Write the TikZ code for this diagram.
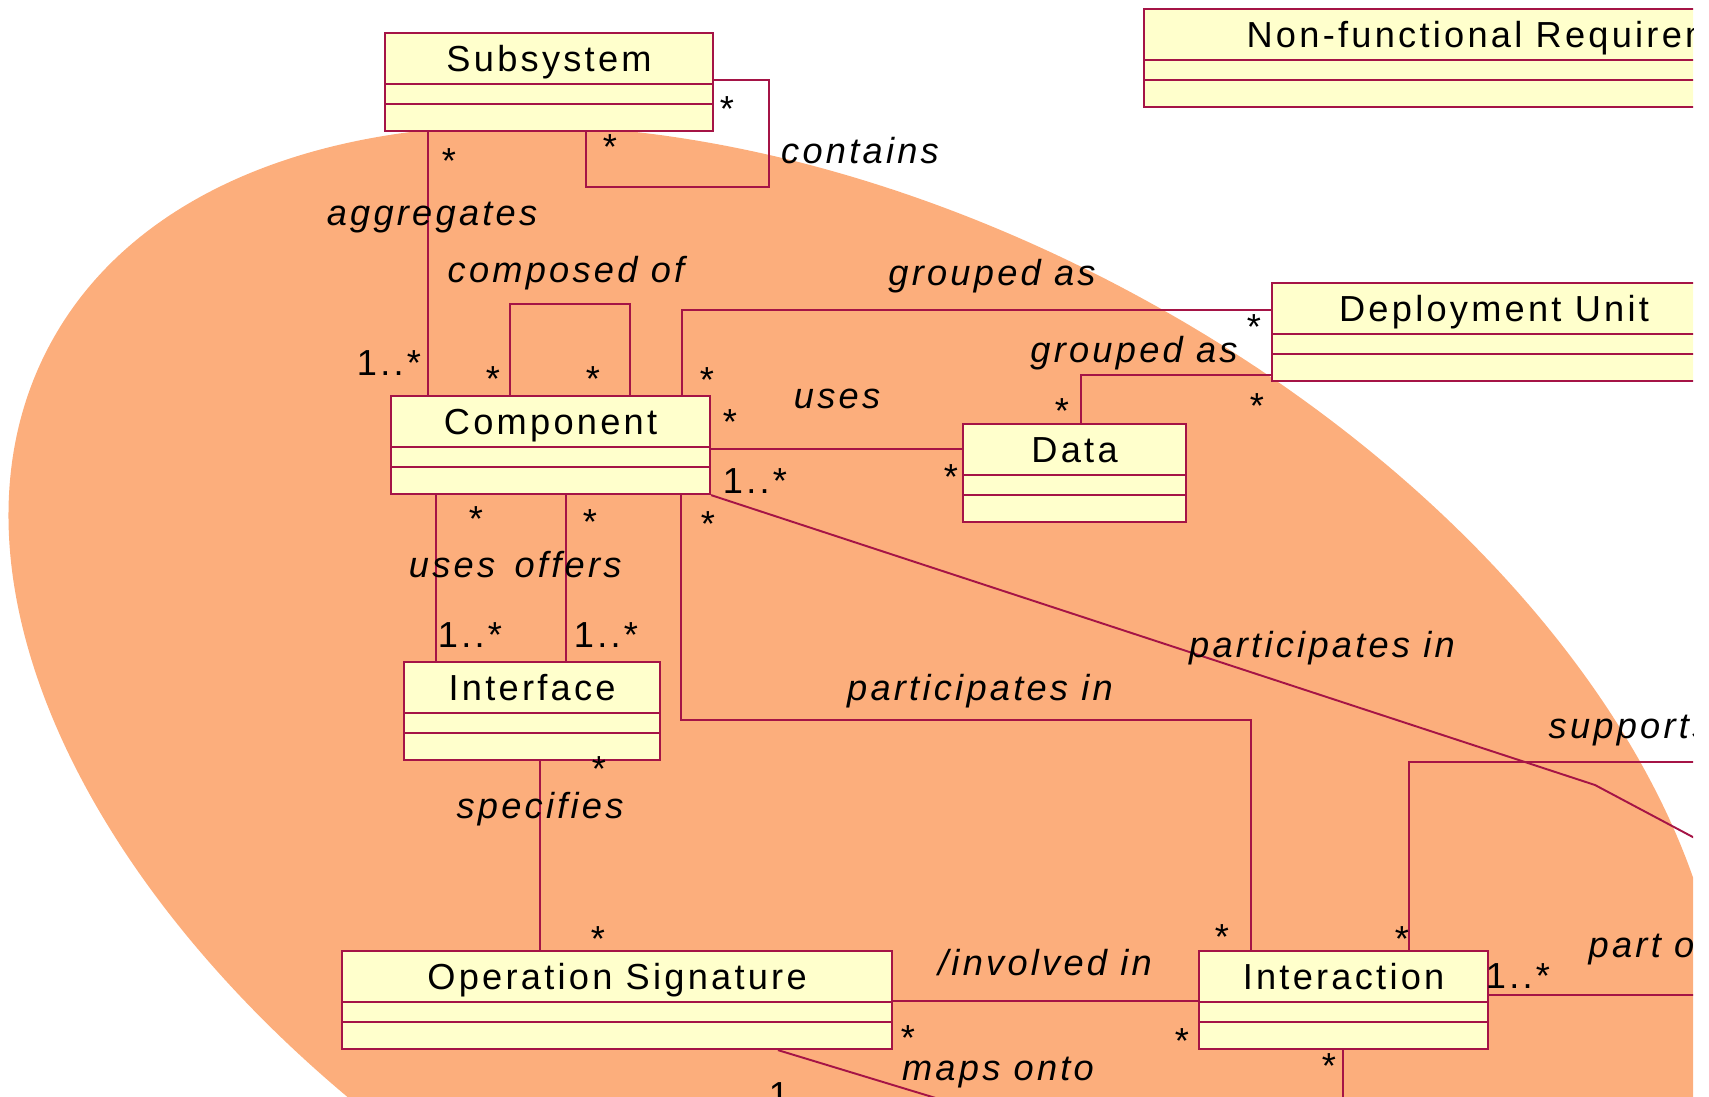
\documentclass[tikz,border=0pt]{standalone}
\usepackage{fontspec}
\setmainfont{Liberation Sans}[LetterSpace=9]
\usetikzlibrary{calc}

\definecolor{umlline}{RGB}{165,20,70}
\definecolor{umlfill}{RGB}{255,255,204}
\definecolor{blob}{RGB}{252,174,124}
\newcommand{\umlfont}{\fontsize{10.3}{12}\selectfont}

\tikzset{
  classbox/.style={draw=umlline, fill=umlfill, line width=0.6pt, anchor=north west,
    minimum height=9.8mm, inner sep=0pt},
  classname/.style={anchor=base, inner sep=0pt, font=\umlfont},
  assoc/.style={draw=umlline, line width=0.55pt},
  role/.style={anchor=base, inner sep=0pt, font=\umlfont\itshape},
  mult/.style={anchor=base, inner sep=0pt, font=\umlfont},
  multstar/.style={anchor=base, inner sep=0pt, font=\umlfont, yshift=-6pt}
}

\newcommand{\classbox}[5]{%
  \node[classbox, minimum width=#4mm] (#1) at (#2,#3) {};
  \draw[assoc, line width=0.6pt] ([yshift=-5.2mm]#1.north west) -- ([yshift=-5.2mm]#1.north east);
  \draw[assoc, line width=0.6pt] ([yshift=-7.2mm]#1.north west) -- ([yshift=-7.2mm]#1.north east);
  \node[classname] (#1-name) at ([yshift=-3.9mm]#1.north) {#5};
}

\begin{document}
\begin{tikzpicture}[x=1mm,y=-1mm]
\useasboundingbox (0,0) rectangle (170.9,109.6);
\begin{scope}
\clip (0,0) rectangle (169.3,109.6);
\fill[blob, rotate around={-28:(86.6,78)}] (86.6,78) ellipse (92.5 and 55.5);

\classbox{subsys}{38.4}{3.2}{32.8}{Subsystem}
\classbox{nfr}{114.3}{0.8}{73.4}{Non-functional Requirement}
\classbox{deploy}{127.1}{28.2}{44.4}{Deployment Unit}
\classbox{comp}{39.0}{39.5}{31.9}{Component}
\classbox{data}{96.2}{42.3}{22.3}{Data}
\classbox{iface}{40.3}{66.1}{25.6}{Interface}
\classbox{opsig}{34.1}{95.0}{55.0}{Operation Signature}
\classbox{inter}{119.8}{95.0}{28.9}{Interaction}

\coordinate (loopCorner) at (76.9,18.7);
\coordinate (partBend) at (159.5,78.5);
\coordinate (partEnd) at (180,89.4);
\coordinate (mapsEnd) at (110.7,115);
\coordinate (supEnd) at (180,76.2);

\draw[assoc] ([yshift=-4.8mm]subsys.north east) -| (loopCorner) -| ([xshift=20.2mm]subsys.south west);
\draw[assoc] ([xshift=4.4mm]subsys.south west) coordinate (aggTop) -- (aggTop |- comp.north);
\draw[assoc] ([xshift=12mm]comp.north west) -- ++(0,-9.1) -| ([xshift=24mm]comp.north west);
\draw[assoc] ([xshift=29.2mm]comp.north west) |- ([yshift=-2.8mm]deploy.north west);
\draw[assoc] ([xshift=11.9mm]data.north west) |- ([yshift=-9.3mm]deploy.north west);
\draw[assoc] ([yshift=-5.4mm]comp.north east) coordinate (usesL) -- (usesL -| data.west);
\draw[assoc] ([xshift=29.1mm]comp.south west) -- ++(0,22.5) -| ([xshift=5.3mm]inter.north west);
\draw[assoc] (comp.south east) -- (partBend) -- (partEnd);
\draw[assoc] ([xshift=4.6mm]comp.south west) coordinate (usesTop) -- (usesTop |- iface.north);
\draw[assoc] ([xshift=17.6mm]comp.south west) coordinate (offTop) -- (offTop |- iface.north);
\draw[assoc] ([xshift=13.7mm]iface.south west) coordinate (specTop) -- (specTop |- opsig.north);
\draw[assoc] ([yshift=-5.1mm]opsig.north east) coordinate (invL) -- (invL -| inter.west);
\draw[assoc] ([xshift=43.7mm]opsig.south west) -- (mapsEnd);
\draw[assoc] ([xshift=14.5mm]inter.south west) -- ++(0,20);
\draw[assoc] ([xshift=21.1mm]inter.north west) |- (supEnd);
\draw[assoc] ([yshift=-4.5mm]inter.north east) -- ++(30,0);

\node[role] (lContains) at (86.0,16.3) {contains};
\node[role] (lAggr) at (43.2,22.5) {aggregates};
\node[role] (lComposed) at (56.6,28.2) {composed of};
\node[role] (lGroupComp) at (99.2,28.5) {grouped as};
\node[role] (lGroupData) at (113.4,36.2) {grouped as};
\node[role] (lUsesData) at (83.7,40.8) {uses};
\node[role] (lUsesIface) at (45.2,57.7) {uses};
\node[role] (lOffers) at (56.8,57.7) {offers};
\node[role] (lPartInter) at (98.0,70.0) {participates in};
\node[role] (lPartDiag) at (132.2,65.7) {participates in};
\node[role] (lSpec) at (54.0,81.8) {specifies};
\node[role] (lInvolved) at (104.5,97.5) {/involved in};
\node[role] (lMaps) at (99.8,108.0) {maps onto};
\node[role, anchor=base west] (lSupports) at (154.8,73.8) {supports};
\node[role, anchor=base west] (lPartOf) at (158.8,95.7) {part of};

\node[mult] (mAggr) at (38.9,37.5) {1..*};
\node[mult] (mData) at (75.5,49.3) {1..*};
\node[mult] (mUses) at (47.0,64.7) {1..*};
\node[mult] (mOffers) at (60.6,64.7) {1..*};
\node[mult] (mPartOf) at (151.8,98.8) {1..*};
\node[mult] (mMaps) at (77.9,110.7) {1};

\node[multstar] (s1) at (72.7,10.0) {*};
\node[multstar] (s2) at (61.0,13.8) {*};
\node[multstar] (s3) at (44.9,15.2) {*};
\node[multstar] (s4) at (49.3,37.0) {*};
\node[multstar] (s5) at (59.3,37.0) {*};
\node[multstar] (s6) at (70.7,37.1) {*};
\node[multstar] (s7) at (125.4,31.8) {*};
\node[multstar] (s8) at (106.2,40.2) {*};
\node[multstar] (s9) at (125.7,39.7) {*};
\node[multstar] (s10) at (73.0,41.3) {*};
\node[multstar] (s11) at (95.1,46.8) {*};
\node[multstar] (s12) at (70.8,51.5) {*};
\node[multstar] (s13) at (47.6,51.0) {*};
\node[multstar] (s14) at (59.0,51.3) {*};
\node[multstar] (s15) at (59.9,76.0) {*};
\node[multstar] (s16) at (59.8,93.0) {*};
\node[multstar] (s17) at (122.2,92.8) {*};
\node[multstar] (s18) at (140.2,93.0) {*};
\node[multstar] (s19) at (90.8,102.9) {*};
\node[multstar] (s20) at (118.2,103.2) {*};
\node[multstar] (s21) at (132.9,105.7) {*};
\end{scope}
\end{tikzpicture}
\end{document}
